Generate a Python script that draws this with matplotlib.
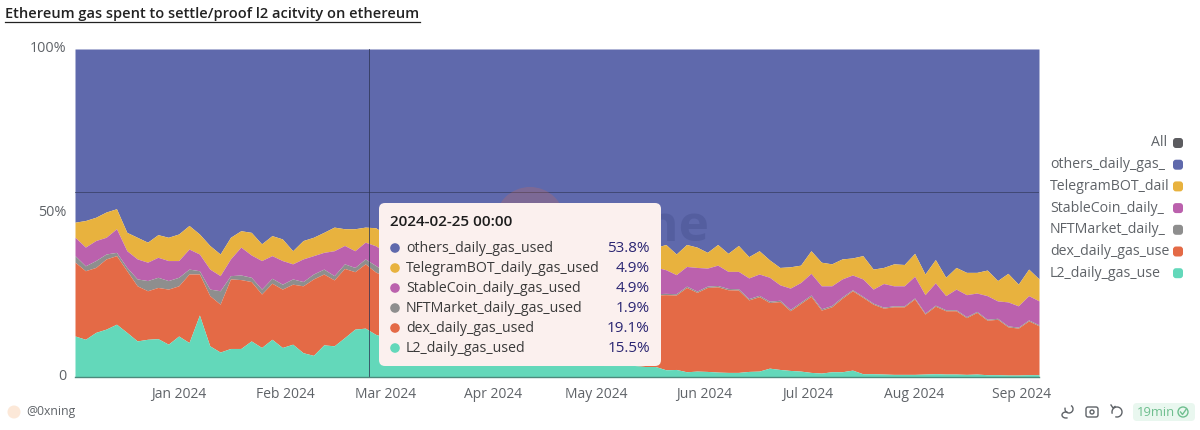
# gas_share_chart.py
# stacked share of ethereum gas by category, dashboard look with hover tooltip

import matplotlib
matplotlib.use("Agg")
import matplotlib.pyplot as plt
import matplotlib.dates as mdates
from matplotlib.patches import FancyBboxPatch, Circle, Arc
from matplotlib.transforms import ScaledTranslation
import pandas as pd

plt.rcParams["font.family"] = ["Open Sans", "DejaVu Sans"]

# one reading every third day, upper edge of each band in percent
dates = pd.date_range("2023-12-02", periods=94, freq="3D")

l2_top = [
    12.5, 11.5, 13.6, 14.6, 16.1, 13.6, 11, 11.5, 11.7, 10, 12.5, 10.5, 18.9, 9.5, 7.6, 8.7,
    8.7, 11, 9, 11.5, 9, 10, 7.4, 6.6, 9.8, 9.5, 12, 14.6, 14.9, 13,
    12, 11, 10.5, 9.5, 9, 8.5, 8, 7.5, 7, 6.5, 6.5, 6, 5.5, 5.5, 5, 5, 4.5, 4.5, 4, 4, 4, 3.5, 3.5, 3.5, 3.5, 3.2, 3.2,
    2.2, 2.3, 1.6, 1.8, 1.7, 1.5, 1.4, 1.4, 1.7, 1.8, 2.7, 2.3, 2, 1.8, 1.4, 1.2, 1.6, 1.6,
    2.1, 1, 1, 0.9, 0.8, 0.8, 0.8, 0.9, 1, 0.9, 0.9, 0.8, 0.9, 0.7, 0.7, 0.6, 0.6, 0.7, 0.7,
]
dex_top = [
    35, 32.4, 33.4, 36, 37, 32.4, 27.8, 26.3, 27.3, 26.8, 27.8, 31.4, 31.4, 24.8, 22.2, 29.9,
    29.7, 29.1, 25.3, 28.6, 26.8, 28.3, 27.8, 29.9, 31.4, 29.6, 33.1, 32.1, 34.5, 32,
    30.5, 31.5, 30, 31, 30, 30.5, 29.5, 30, 29, 29.5, 28.5, 29, 28, 28.5, 27.5, 28, 27, 27.5, 26.5, 27, 26, 26.5, 25.5, 26, 25, 25.5, 25,
    25.1, 25, 27.3, 25.8, 27.3, 27.5, 26.6, 26.5, 23.5, 24.5, 22.7, 23, 20.2, 22.4, 24.6, 20.4, 21.4, 24,
    26.3, 24.3, 22.2, 21, 21.4, 21.4, 23.8, 19.2, 21.6, 20.2, 20.2, 18.1, 19.7, 17.3, 17.6, 15.3, 14.9, 17.1, 15.6,
]
nft_top = [
    37, 33.9, 35.5, 37.5, 38, 33.4, 29.9, 29.4, 30.4, 29.4, 30.4, 32.9, 32.4, 26.8, 26.3, 30.9,
    31.1, 30.4, 26.8, 30.1, 28.3, 29.9, 29.1, 31.4, 32.9, 30.9, 34.5, 33.4, 36, 34,
    32, 33, 31.5, 32.3, 31.3, 31.8, 30.7, 31.1, 30.1, 30.5, 29.5, 29.9, 28.9, 29.3, 28.3, 28.7, 27.7, 28.1, 27.1, 27.5, 26.5, 27, 26, 26.5, 25.5, 26, 25.4,
    25.5, 25.4, 27.7, 26.2, 27.7, 27.9, 27, 26.9, 23.9, 24.9, 23.1, 23.4, 20.6, 22.8, 25, 20.8, 21.8, 24.4,
    26.6, 24.6, 22.5, 21.3, 21.7, 21.7, 24.1, 19.5, 21.9, 20.5, 20.5, 18.4, 20, 17.6, 17.9, 15.6, 15.2, 17.4, 15.9,
]
stable_top = [
    42.6, 39.6, 41.6, 42.6, 45.2, 38.5, 36, 35, 36.5, 35.5, 35.5, 39, 37.5, 32.9, 30.9, 36,
    39.6, 37.2, 35.5, 37, 35.5, 34.5, 36, 37, 38, 38.5, 40.1, 38.5, 41.1, 40,
    38, 39.5, 37, 39, 37.5, 39, 36.5, 38, 35.5, 37, 35, 36.5, 34.5, 35.5, 34, 35, 33.5, 34.5, 33, 34, 33, 34.5, 33, 34, 32.5, 33.5, 33.5,
    32.7, 31.2, 33.7, 33.4, 33.2, 34.1, 32.2, 32.2, 30.2, 31.4, 30.4, 28.1, 27.1, 28.8, 31.6, 27.8, 27.8, 29.9,
    31.1, 29.9, 26.8, 28.5, 27.8, 27.8, 30.7, 25.1, 28.7, 24.8, 26.8, 25.1, 25.6, 24.8, 23.2, 22.9, 21.7, 24.8, 23.2,
]
telegram_top = [
    47.2, 47.7, 48.7, 50.3, 51.3, 44.1, 42.6, 41.1, 43.4, 42.6, 43.6, 46.2, 43.6, 40.1, 37.5, 42.6,
    44.6, 44.1, 40.6, 43.1, 42.1, 38.5, 41.6, 42.6, 44.1, 45.7, 45.2, 45.2, 45.7, 45.5,
    43.5, 45, 42.5, 44.5, 43, 45.5, 42, 43, 41, 43.5, 40.5, 42, 40, 41.5, 39.5, 41, 39, 41, 38.5, 40, 38.5, 40.5, 39, 40.5, 38.5, 40, 39.5,
    40.4, 37.5, 40.4, 39.6, 38, 40.4, 37.7, 40.1, 36.7, 38.5, 35.7, 33.4, 33.6, 34.1, 38.5, 35, 34.5, 36,
    36.3, 37, 32.9, 33.4, 34.5, 34.3, 37.7, 31.4, 35.8, 30.4, 33.4, 31.9, 31.9, 32.6, 29.4, 31.6, 28.3, 32.9, 29.9,
]
others_top = [100] * 94

series_names = [
    "others_daily_gas_used", "TelegramBOT_daily_gas_used", "StableCoin_daily_gas_used",
    "NFTMarket_daily_gas_used", "dex_daily_gas_used", "L2_daily_gas_used",
]
# 범례 칸이 좁아서 이름이 잘려 보임
legend_names = ["All", "others_daily_gas_", "TelegramBOT_dail", "StableCoin_daily_",
                "NFTMarket_daily_", "dex_daily_gas_use", "L2_daily_gas_use"]
series_colors = ["#5F69AC", "#E8B23E", "#BB61AD", "#8E8E8E", "#E46A46", "#63D8BA"]
tooltip_date = "2024-02-25 00:00"
tooltip_values = ["53.8%", "4.9%", "4.9%", "1.9%", "19.1%", "15.5%"]
month_ticks = ["2024-01-01", "2024-02-01", "2024-03-01", "2024-04-01", "2024-05-01",
               "2024-06-01", "2024-07-01", "2024-08-01", "2024-09-01"]
hover_day = "2024-02-25"
hover_level = 56.3

W, H = 1200, 430
GRAY = "#5f6368"

fig = plt.figure(figsize=(12, 4.3), dpi=100, facecolor="white")

# 차트 영역
ax = fig.add_axes([75 / W, 1 - 377 / H, (1039 - 75) / W, (377 - 49) / H])
tops = [others_top, telegram_top, stable_top, nft_top, dex_top, l2_top]
bottoms = tops[1:] + [[0] * 94]
for top, bottom, color in zip(tops, bottoms, series_colors):
    ax.fill_between(dates, bottom, top, color=color, linewidth=0)

ax.set_xlim(dates[0], dates[-1])
ax.set_ylim(0, 100)
ax.set_yticks([0, 50, 100])
ax.set_yticklabels(["0", "50%", "100%"])
ax.set_xticks(pd.to_datetime(month_ticks))
ax.xaxis.set_major_formatter(mdates.DateFormatter("%b %Y"))
ax.tick_params(axis="both", length=0, labelsize=10, labelcolor=GRAY)
ax.tick_params(axis="x", pad=7)
ax.tick_params(axis="y", pad=6, labelsize=10.4)
shift_up = ScaledTranslation(0, 2 / 72 * 0.72, fig.dpi_scale_trans)
for lab in ax.get_yticklabels():
    lab.set_transform(lab.get_transform() + shift_up)
for side in ["top", "right", "left"]:
    ax.spines[side].set_visible(False)
ax.spines["bottom"].set_color("#4c8a7c")
ax.spines["bottom"].set_linewidth(1)

# 호버 십자선
ax.axvline(pd.Timestamp(hover_day), color="#2c3350", lw=0.7, alpha=0.75)
ax.axhline(hover_level, color="#2c3350", lw=0.7, alpha=0.6)

# 나머지는 픽셀 좌표 오버레이에 그림
ov = fig.add_axes([0, 0, 1, 1], zorder=5)
ov.set_xlim(0, W)
ov.set_ylim(H, 0)
ov.axis("off")
ov.patch.set_alpha(0)

# 제목
ov.text(5, 14, "Ethereum gas spent to settle/proof l2 acitvity on ethereum",
        fontsize=10.5, fontweight="semibold", color="#222222", va="center")
ov.plot([5, 420], [21.5, 21.5], color="#222222", lw=0.9)

# 워터마크
ov.add_patch(Circle((530, 222), 35, color="#E46A46", alpha=0.22, lw=0))
ov.text(709, 228, "Dune", ha="right", va="center", fontsize=37, fontweight="bold",
        color="#4b5596", alpha=0.55)

# 툴팁
ov.add_patch(FancyBboxPatch((384, 208), 272, 153, boxstyle="round,pad=5,rounding_size=6",
                            fc="#FBF0EE", ec="none", zorder=3))
ov.text(390, 222, tooltip_date, fontsize=11, fontweight="semibold", color="#1d1d1d",
        va="center", zorder=4)
for i, (name, color, value) in enumerate(zip(series_names, series_colors, tooltip_values)):
    y = 248 + 20 * i
    ov.add_patch(Circle((395, y), 4.8, color=color, lw=0, zorder=4))
    ov.text(406, y, name, fontsize=10.2, color="#3a3a3a", va="center", zorder=4)
    ov.text(650, y, value, fontsize=11, color="#2B2672", va="center", ha="right", zorder=4)

# 범례
legend_colors = ["#5c5c60"] + series_colors
for i, (name, color) in enumerate(zip(legend_names, legend_colors)):
    y = 143 + 21.7 * i
    if i == 0:
        ov.text(1167, y, name, fontsize=10.2, color=GRAY, va="center", ha="right")
    else:
        ov.text(1050, y, name, fontsize=10.2, color=GRAY, va="center")
    ov.add_patch(FancyBboxPatch((1175, y - 3), 6, 6, boxstyle="round,pad=2,rounding_size=3",
                                fc=color, ec="none"))

# 하단 작성자
ov.add_patch(Circle((14, 412), 6.5, color="#FCE8D8", lw=0))
ov.text(26, 412, "@0xning", fontsize=8.8, color=GRAY, va="center")

# 하단 아이콘
ov.add_patch(Arc((1069, 409), 8, 8, theta1=300, theta2=200, color=GRAY, lw=1))
ov.add_patch(Arc((1066, 415), 8, 6, theta1=60, theta2=300, color=GRAY, lw=1))
ov.add_patch(FancyBboxPatch((1088, 409), 8, 6, boxstyle="round,pad=2,rounding_size=2",
                            fc="none", ec=GRAY, lw=1))
ov.add_patch(Circle((1092, 412), 2, fc="none", ec=GRAY, lw=1))
ov.add_patch(Arc((1117, 412), 10, 10, theta1=-200, theta2=110, color=GRAY, lw=1))
ov.plot([1111, 1113, 1115], [405, 408, 406.5], color=GRAY, lw=1)
ov.add_patch(FancyBboxPatch((1137, 407), 54, 10, boxstyle="round,pad=4,rounding_size=4",
                            fc="#E9F7EF", ec="none"))
ov.text(1137, 412, "19min", fontsize=9.4, color="#6FBF8F", va="center")
ov.add_patch(Circle((1183, 412), 5, fc="none", ec="#6FBF8F", lw=1))
ov.plot([1180.5, 1182.5, 1186], [412, 414.5, 409.5], color="#6FBF8F", lw=1)

fig.savefig("out.png", dpi=100)
plt.close(fig)
